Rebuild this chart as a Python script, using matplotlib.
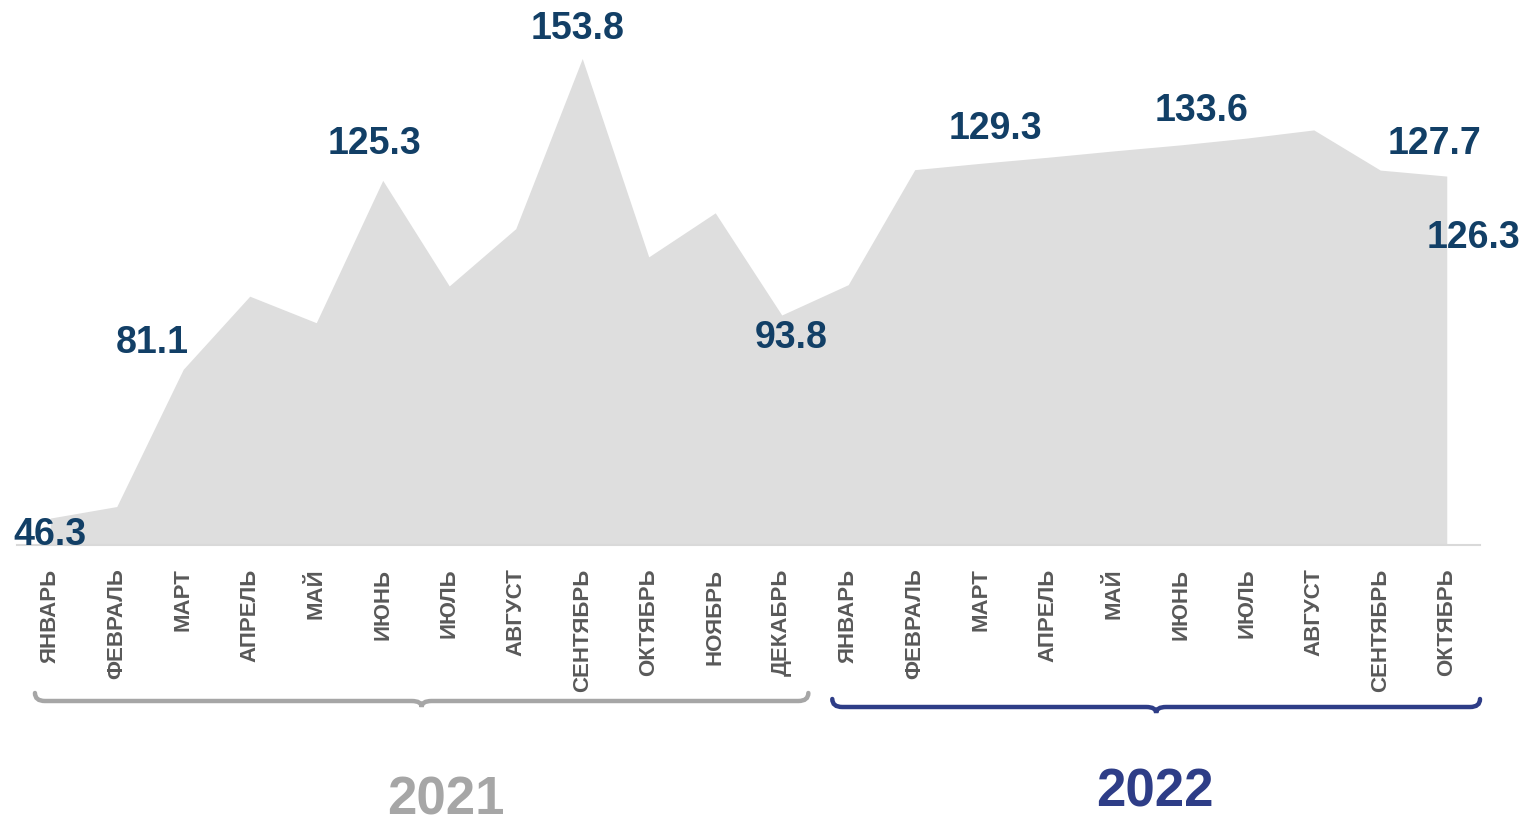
import matplotlib.pyplot as plt
from matplotlib.path import Path
from matplotlib.patches import PathPatch
from matplotlib.transforms import blended_transform_factory

plt.rcParams['font.family'] = ['Liberation Sans', 'DejaVu Sans']

# month names
months_2021 = ['ЯНВАРЬ', 'ФЕВРАЛЬ', 'МАРТ', 'АПРЕЛЬ', 'МАЙ', 'ИЮНЬ', 'ИЮЛЬ',
               'АВГУСТ', 'СЕНТЯБРЬ', 'ОКТЯБРЬ', 'НОЯБРЬ', 'ДЕКАБРЬ']
months_2022 = ['ЯНВАРЬ', 'ФЕВРАЛЬ', 'МАРТ', 'АПРЕЛЬ', 'МАЙ', 'ИЮНЬ', 'ИЮЛЬ',
               'АВГУСТ', 'СЕНТЯБРЬ', 'ОКТЯБРЬ']

# values
values_2021 = [46.3, 49.0, 81.1, 98.2, 92.0, 125.3, 100.6, 114.0, 153.8, 107.4, 117.7, 93.8]
values_2022 = [100.9, 127.8, 129.3, 130.7, 132.2, 133.6, 135.2, 137.1, 127.7, 126.3]

labels = months_2021 + months_2022
values = values_2021 + values_2022
x = list(range(len(values)))

# which points get a value label, and where (pixel offsets)
label_idx = [0, 2, 5, 8, 11, 14, 17, 20, 21]
label_off = [(0, -17), (-31, 26), (-8, 36), (-5, 30), (9, -23),
             (14, 34), (21, 34), (54, 26), (27, -62)]

fig = plt.figure(figsize=(15.27, 8.22), dpi=100)
ax = fig.add_axes([17 / 1527, 277 / 822, 1463 / 1527, 513 / 822])

ymin = 40
ax.fill_between(x, values, ymin, color='#dedede', linewidth=0)
ax.set_xlim(-0.5, len(values) - 0.5)
ax.set_ylim(ymin, 160)

for spine in ['top', 'left', 'right']:
    ax.spines[spine].set_visible(False)
ax.spines['bottom'].set_color('#d9d9d9')
ax.spines['bottom'].set_linewidth(1.5)
ax.set_yticks([])
ax.set_xticks(x)
ax.set_xticklabels(labels, rotation=90, fontsize=16, fontweight='bold', color='#595959')
ax.tick_params(axis='x', length=0, pad=17)

for i, (dx, dy) in zip(label_idx, label_off):
    ax.annotate(f'{values[i]:.1f}', (x[i], values[i]), xytext=(dx, dy),
                textcoords='offset pixels', ha='center', va='center',
                fontsize=27, fontweight='bold', color='#123f66')

# year braces under the month labels
tr = blended_transform_factory(ax.transData, fig.transFigure)


def brace(x0, x1, y, color):
    xc = (x0 + x1) / 2
    r = 0.15
    h = 8 / 822
    d = 6 / 822
    verts = [(x0, y + h), (x0, y), (x0 + r, y),
             (xc - r, y), (xc, y), (xc, y - d),
             (xc, y), (xc + r, y),
             (x1 - r, y), (x1, y), (x1, y + h)]
    codes = [Path.MOVETO, Path.CURVE3, Path.CURVE3,
             Path.LINETO, Path.CURVE3, Path.CURVE3,
             Path.CURVE3, Path.CURVE3,
             Path.LINETO, Path.CURVE3, Path.CURVE3]
    ax.add_patch(PathPatch(Path(verts, codes), transform=tr, fill=False,
                           edgecolor=color, linewidth=3.2, capstyle='round',
                           clip_on=False))


brace(-0.23, 11.4, 1 - 701 / 822, '#a6a6a6')
brace(11.76, 21.5, 1 - 707 / 822, '#2e3d87')

fig.text(446 / 1527, 1 - 800 / 822, '2021', ha='center', va='center',
         fontsize=38, fontweight='bold', color='#a6a6a6')
fig.text(1155 / 1527, 1 - 792 / 822, '2022', ha='center', va='center',
         fontsize=38, fontweight='bold', color='#2e3d87')

fig.savefig('out.png', dpi=100)
